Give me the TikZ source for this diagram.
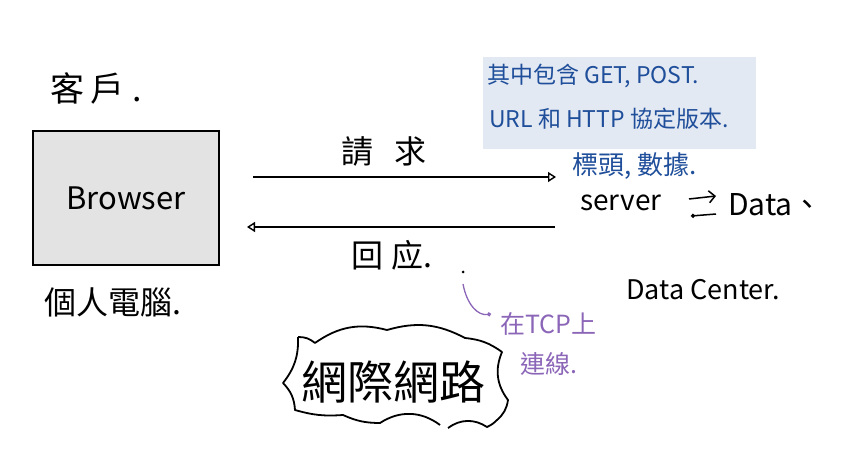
\documentclass[tikz,border=0pt]{standalone}
\usepackage{fontspec}
\usepackage{tikz}
\usetikzlibrary{arrows.meta}
\setmainfont{Noto Sans CJK TC}
\definecolor{notebox}{HTML}{E3E9F3}
\definecolor{noteblue}{HTML}{1F4E9A}
\definecolor{notepurple}{HTML}{8B66B8}
\definecolor{boxgray}{HTML}{E3E3E3}

\begin{document}
\begin{tikzpicture}[x=1pt,y=-1pt]
    \useasboundingbox (0,0) rectangle (852,462);
    \tikzset{
        hand/.style={inner sep=0pt, font=\fontsize{32}{36}\selectfont},
        blue note/.style={inner sep=0pt, text=noteblue, font=\fontsize{23}{27}\selectfont},
        purple note/.style={inner sep=0pt, text=notepurple, font=\fontsize{25}{29}\selectfont},
        flow/.style={line width=1.4pt, -{Triangle[open,length=8pt,width=10pt]}}
    }
    \coordinate (reqstart) at (253,177);
    \coordinate (reqend) at (556,177);
    \coordinate (resstart) at (555,227);
    \coordinate (resend) at (247,227);

    % client side
    \node[hand, anchor=west, font=\fontsize{34}{38}\selectfont] (client) at (50,88) {客\hspace{6pt}戶\hspace{8pt}.};
    \node[draw, line width=1.8pt, fill=boxgray, minimum width=186pt, minimum height=134pt,
          inner sep=0pt] (browser) at (126,198) {};
    \node[hand, font=\fontsize{31}{35}\selectfont] (browserlabel) at (browser.center) {Browser};
    \node[hand, anchor=west] (pc) at (44,302) {個人電腦.};

    % request and response
    \draw[flow] (reqstart) -- (reqend);
    \draw[flow] (resstart) -- (resend);
    \node[hand] (request) at (384,152) {請\hspace{22pt}求};
    \node[hand] (response) at (392,255) {回\hspace{8pt}应.};

    % note on the request
    \node[fill=notebox, minimum width=273pt, minimum height=92pt, inner sep=0pt] (notebg) at (619.5,103) {};
    \node[blue note, anchor=west] (noteone) at (487,76) {其中包含 GET, POST.};
    \node[blue note, anchor=west] (notetwo) at (489,119) {URL 和 HTTP 協定版本.};
    \node[blue note, anchor=west, font=\fontsize{26}{30}\selectfont] (headers) at (572,166) {標頭, 數據.};

    % server side
    \node[hand, anchor=west, font=\fontsize{28}{32}\selectfont] (server) at (580,203) {server};
    \node[hand, anchor=west, font=\fontsize{30}{34}\selectfont] (data) at (728,205) {Data、};
    \coordinate (swapa) at (689,199);
    \coordinate (swapb) at (716,196);
    \coordinate (swapc) at (716,214);
    \coordinate (swapd) at (691,216);
    \draw[line width=1.5pt, -{Straight Barb[length=6pt]}] (swapa) -- (swapb);
    \draw[line width=1.5pt, -{Circle[open,length=4pt]}] (swapc) -- (swapd);
    \node[hand, anchor=west, font=\fontsize{27}{31}\selectfont] (center) at (626,290) {Data Center.};

    % tcp remark
    \node[purple note, anchor=west] (tcp) at (500,324) {在TCP上};
    \node[purple note, anchor=west] (link) at (520,364) {連線.};
    \fill (463,272) circle (1.5pt);
    \coordinate (tcpfrom) at (463,284);
    \coordinate (tcpto) at (491,314);
    \draw[notepurple, line width=1.3pt, -{Circle[open,length=4pt]}]
        (tcpfrom) .. controls (467,305) and (478,316) .. (tcpto);

    % internet cloud
    \draw[line width=1.8pt, line join=round]
        (298,337) to[bend left=20] (315,343) to[bend left=25] (387,330)
        to[bend left=22] (465,338) to[bend left=15] (502,352)
        to[bend right=30] (508,400) to[bend left=20] (497,420)
        to[bend left=10] (487,427) to[bend right=35] (448,428)
        (440,425) to[bend right=35] (380,423) to[bend left=12] (343,415)
        to[bend left=10] (295,410) to[bend right=20] (283,383)
        to[bend right=20] (298,337);
    \node[hand, font=\fontsize{46}{50}\selectfont] (internet) at (393,382) {網際網路};
\end{tikzpicture}
\end{document}
